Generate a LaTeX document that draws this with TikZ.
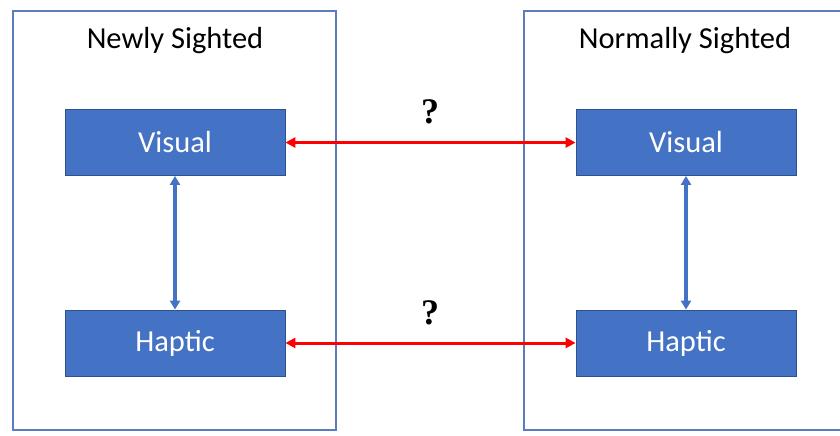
\documentclass[tikz,border=0pt]{standalone}
\usepackage{fontspec}
\setmainfont{Carlito}
\newfontfamily\qfont{Liberation Serif}
\usetikzlibrary{arrows.meta}
\definecolor{boxblue}{HTML}{4472C4}
\definecolor{boxedge}{HTML}{2F528F}
\definecolor{panelblue}{HTML}{5B7DC0}
\tikzset{
  panel/.style={draw=panelblue, line width=1.5pt},
  modbox/.style={draw=boxedge, fill=boxblue, line width=0.8pt, minimum width=220pt, minimum height=66pt, inner sep=0pt, text=white, font=\fontsize{30.5}{34}\selectfont},
  title/.style={font=\fontsize{30.5}{34}\selectfont, text=black, inner sep=0pt},
  qmark/.style={font=\qfont\bfseries\fontsize{36}{40}\selectfont, inner sep=0pt},
  bluearrow/.style={draw=boxblue, line width=3.2pt, {Triangle[length=9pt,width=10pt]}-{Triangle[length=9pt,width=10pt]}},
  redarrow/.style={draw=red, line width=3pt, {Triangle[length=10pt,width=10pt]}-{Triangle[length=10pt,width=10pt]}}
}
\begin{document}
\begin{tikzpicture}[x=1pt,y=-1pt]
\useasboundingbox (0,0) rectangle (840,436);
% panels
\draw[panel] (13,11) rectangle (336,430);
\draw[panel] (845,11) -- (524,11) -- (524,430) -- (845,430);
% titles
\node[title] (t1) at (175,40.5) {Newly Sighted};
\node[title] (t2) at (685,40.5) {Normally Sighted};
% boxes
\node[modbox] (v1) at (175,142.5) {\raisebox{-1pt}{Visual}};
\node[modbox] (h1) at (175,343) {\raisebox{-1pt}{Haptic}};
\node[modbox] (v2) at (686,142.5) {\raisebox{-1pt}{Visual}};
\node[modbox] (h2) at (686,343) {\raisebox{-1pt}{Haptic}};
% arrows
\draw[bluearrow] (v1.south) -- (h1.north);
\draw[bluearrow] (v2.south) -- (h2.north);
\draw[redarrow] (v1.east) -- (v2.west);
\draw[redarrow] (h1.east) -- (h2.west);
% question marks
\node[qmark] (q1) at (430,112) {?};
\node[qmark] (q2) at (430,313) {?};
\end{tikzpicture}
\end{document}
